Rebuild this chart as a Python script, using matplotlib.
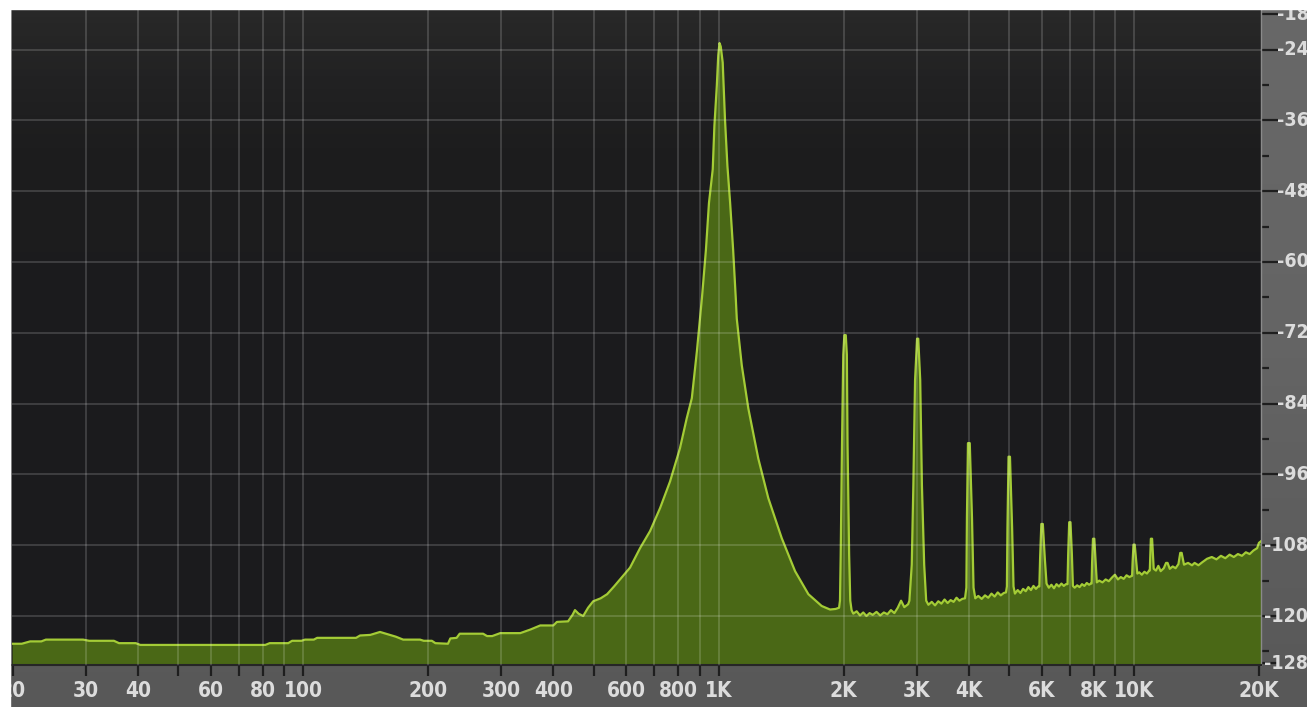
import numpy as np
import matplotlib.pyplot as plt
from matplotlib.patches import Rectangle
from matplotlib.colors import LinearSegmentedColormap

# spectrum: frequency (Hz) and level (dB)
low_freq = [19.9, 21, 22, 23.4, 24, 29.5, 30.5, 35, 36, 39.5, 40.5, 81, 83, 92, 94, 99,
            101, 106, 108, 134, 137, 145, 153, 160, 167, 174, 191, 195, 204, 208, 223,
            226, 234, 238, 271, 277, 285, 298, 333, 352, 372, 400, 408, 434, 445, 451,
            460, 472, 485, 499, 520, 539, 560, 579, 612, 647, 684, 723, 764, 807, 838, 862]
low_db = [-124.7, -124.7, -124.3, -124.3, -124.0, -124.0, -124.2, -124.2, -124.6, -124.6,
          -124.9, -124.9, -124.6, -124.6, -124.2, -124.2, -124.0, -124.0, -123.7, -123.7,
          -123.3, -123.2, -122.7, -123.1, -123.5, -124.0, -124.0, -124.2, -124.2, -124.6,
          -124.7, -123.8, -123.7, -123.0, -123.0, -123.4, -123.4, -122.9, -122.9, -122.3,
          -121.6, -121.6, -121.0, -120.9, -119.8, -119.0, -119.6, -120.0, -118.6, -117.5,
          -117.0, -116.3, -115.0, -113.8, -111.8, -108.5, -105.6, -101.7, -97.2, -91.6,
          -86.5, -83.1]

fund_freq = [887, 912, 932, 948, 968, 977, 990, 998, 1005, 1012, 1023, 1036, 1050, 1066,
             1084, 1100, 1106, 1137, 1179, 1246, 1317, 1419, 1528, 1645, 1771, 1855, 1914]
fund_db = [-75.0, -66.0, -58.0, -50.0, -44.3, -36.9, -30.2, -25.0, -22.9, -23.5, -26.2,
           -35.8, -43.7, -50.0, -58.0, -66.2, -69.6, -77.5, -84.8, -93.3, -100.0, -106.8,
           -112.4, -116.3, -118.3, -118.9, -118.8]

harm_freq = [1950, 1960, 1968, 1982, 1996, 2008, 2024, 2036, 2044, 2062, 2075, 2090,
             2110, 2150, 2190, 2230, 2270, 2310, 2350, 2400, 2450, 2500, 2550, 2600, 2650,
             2700, 2750, 2800, 2860,
             2880, 2918, 2944, 2972, 3005, 3025, 3058, 3087, 3126, 3161, 3200,
             3260, 3320, 3380, 3440, 3500, 3560, 3620, 3680, 3740, 3800, 3860,
             3920, 3950, 3962, 3985, 4025, 4075, 4110, 4150,
             4220, 4300, 4380, 4460, 4540, 4620, 4700, 4780, 4860,
             4920, 4945, 4960, 4990, 5030, 5090, 5130, 5170,
             5250, 5330, 5410, 5490, 5570, 5650, 5730, 5810, 5880,
             5920, 5945, 5985, 6035, 6100, 6160,
             6240, 6330, 6420, 6510, 6600, 6690, 6780, 6860,
             6920, 6945, 6985, 7035, 7090, 7130,
             7200, 7300, 7400, 7500, 7600, 7700, 7800, 7880,
             7910, 7930, 7970, 8030, 8090, 8140,
             8250, 8400, 8550, 8700, 8850, 9000, 9150, 9300, 9450, 9600, 9750, 9880,
             9900, 9925, 9975, 10045, 10140, 10190,
             10300, 10450, 10600, 10750, 10880,
             10920, 10945, 10985, 11060, 11120, 11160,
             11300, 11450, 11600, 11800, 11950, 12050, 12200, 12400, 12600, 12800,
             12930, 13030, 13200, 13500, 13800,
             14000, 14300, 14600, 15000, 15400, 15800, 16200, 16600, 17000, 17400,
             17800, 18200, 18600, 19000, 19400, 19800, 20000, 20250]
harm_db = [-118.6, -117.4, -109.6, -91.0, -75.7, -72.4, -72.4, -75.7, -91.0, -109.6, -117.4, -119.0,
           -119.6, -119.2, -119.9, -119.4, -120.0, -119.5, -119.8, -119.3, -119.9, -119.4, -119.7,
           -119.0, -119.5, -118.6, -117.4, -118.5, -118.0,
           -117.4, -111.3, -97.8, -80.0, -73.0, -73.0, -80.0, -97.8, -111.3, -117.4, -118.1,
           -117.6, -118.2, -117.5, -117.9, -117.2, -117.8, -117.3, -117.6, -116.9, -117.4, -117.1,
           -117.0, -115.2, -103.4, -90.7, -90.7, -103.4, -115.2, -117.0,
           -116.6, -117.1, -116.5, -116.9, -116.2, -116.7, -116.0, -116.5, -116.1,
           -116.0, -115.0, -105.1, -93.0, -93.0, -105.1, -115.0, -116.2,
           -115.6, -116.1, -115.4, -115.8, -115.1, -115.6, -114.9, -115.4, -115.0,
           -115.0, -110.1, -104.4, -104.4, -110.1, -114.5,
           -115.2, -114.7, -115.3, -114.6, -115.0, -114.5, -114.9, -114.6,
           -114.6, -109.6, -104.1, -104.1, -109.6, -114.9,
           -115.2, -114.8, -115.1, -114.6, -114.9, -114.4, -114.7, -114.5,
           -114.5, -111.0, -106.9, -106.9, -111.0, -114.3,
           -114.0, -114.3, -113.8, -114.1, -113.5, -113.0, -113.8, -113.4, -113.7, -113.1, -113.4, -113.2,
           -113.2, -111.0, -107.9, -107.9, -111.0, -112.8,
           -112.6, -113.0, -112.5, -112.8, -112.3,
           -112.3, -110.1, -106.9, -106.9, -110.1, -112.0,
           -112.3, -111.5, -112.4, -111.9, -111.0, -111.0, -112.0, -111.6, -111.9, -111.2,
           -109.3, -109.3, -111.3, -111.0, -111.4,
           -111.0, -111.4, -110.9, -110.3, -110.0, -110.4, -109.8, -110.2, -109.6, -110.0,
           -109.5, -109.8, -109.2, -109.5, -108.9, -108.5, -107.6, -107.3]

tick_freqs = [20, 30, 40, 50, 60, 70, 80, 90, 100, 200, 300, 400, 500, 600, 700, 800, 900,
              1000, 2000, 3000, 4000, 5000, 6000, 7000, 8000, 9000, 10000, 20000]
label_freqs = [20, 30, 40, 60, 80, 100, 200, 300, 400, 600, 800,
               1000, 2000, 3000, 4000, 6000, 8000, 10000, 20000]
label_texts = ['20', '30', '40', '60', '80', '100', '200', '300', '400', '600', '800',
               '1K', '2K', '3K', '4K', '6K', '8K', '10K', '20K']
db_labels = [-18, -24, -36, -48, -60, -72, -84, -96, -108, -120, -128]
db_minor = [-30, -42, -54, -66, -78, -90, -102, -114, -126]
grid_db = [-24, -36, -48, -60, -72, -84, -96, -108, -120]

freq = np.array(low_freq + fund_freq + harm_freq)
db = np.array(low_db + fund_db + harm_db)

W, H = 1307, 707
fig = plt.figure(figsize=(W / 100, H / 100), dpi=100, facecolor='white')
font = ['Liberation Sans Narrow', 'DejaVu Sans']

# gray brushed frame
frame = fig.add_axes([10 / W, 0, 1 - 10 / W, (H - 9) / H])
frame_cmap = LinearSegmentedColormap.from_list('frame', ['#585858', '#646464', '#686868'])
frame.imshow(np.linspace(0, 1, 100).reshape(-1, 1), aspect='auto', cmap=frame_cmap,
             extent=[0, 1, 0, 1], origin='lower')
frame.axis('off')

# dark plot background
pos = [12 / W, (H - 665) / H, 1249 / W, 655 / H]
back = fig.add_axes(pos)
back_cmap = LinearSegmentedColormap.from_list('back', ['#1b1b1d', '#1d1d1e', '#282828'])
back.imshow(np.linspace(0, 1, 100).reshape(-1, 1) ** 3, aspect='auto', cmap=back_cmap,
            extent=[0, 1, 0, 1], origin='lower')
back.axis('off')

ax = fig.add_axes(pos)
ax.patch.set_alpha(0)
ax.set_xscale('log')
ax.set_xlim(19.89, 20230)
ax.set_ylim(-128.3, -17.3)

ax.fill_between(freq, db, -140, color='#4a6816', lw=0, zorder=2)
ax.plot(freq, db, color='#a4cc36', lw=1.6, zorder=3)

for f in tick_freqs[1:-1]:
    ax.axvline(f, color='white', alpha=0.17, lw=1.3, zorder=4)
for d in grid_db:
    ax.axhline(d, color='white', alpha=0.17, lw=1.3, zorder=4)

for side in ['top', 'left']:
    ax.spines[side].set_visible(False)
ax.spines['bottom'].set_color('#262626')
ax.spines['bottom'].set_linewidth(1.5)
ax.spines['right'].set_color('#8a8a8a')
ax.spines['right'].set_linewidth(1.0)

ax.set_xticks(tick_freqs)
ax.set_xticks([], minor=True)
ax.set_xticklabels([])
ax.yaxis.tick_right()
ax.set_yticks(db_labels)
ax.set_yticks(db_minor, minor=True)
ax.set_yticklabels([])
ax.tick_params(axis='x', which='major', direction='out', length=8, width=1.6,
               color='#1e1e1e', pad=0)
ax.tick_params(axis='y', which='major', direction='out', length=12, width=1.6,
               color='#1e1e1e')
ax.tick_params(axis='y', which='minor', direction='out', length=6, width=1.6,
               color='#1e1e1e')

for f, t in zip(label_freqs, label_texts):
    ax.text(f, -0.04, t, transform=ax.get_xaxis_transform(), ha='center', va='center',
            fontsize=15, fontweight='bold', fontstretch='condensed', color='#dcdcdc',
            family=font, clip_on=False)
for d in db_labels:
    ax.text(1.038, d, '%d' % d, transform=ax.get_yaxis_transform(), ha='right',
            va='center', fontsize=14, fontweight='bold', fontstretch='condensed',
            color='#dcdcdc', family=font, clip_on=False)

# white margins left and top, drawn over the labels
fig.add_artist(Rectangle((0, 0), 10 / W, 1, transform=fig.transFigure,
                         color='white', zorder=10))
fig.add_artist(Rectangle((0, (H - 9) / H), 1, 9 / H, transform=fig.transFigure,
                         color='white', zorder=10))

fig.savefig('out.png', dpi=100)
